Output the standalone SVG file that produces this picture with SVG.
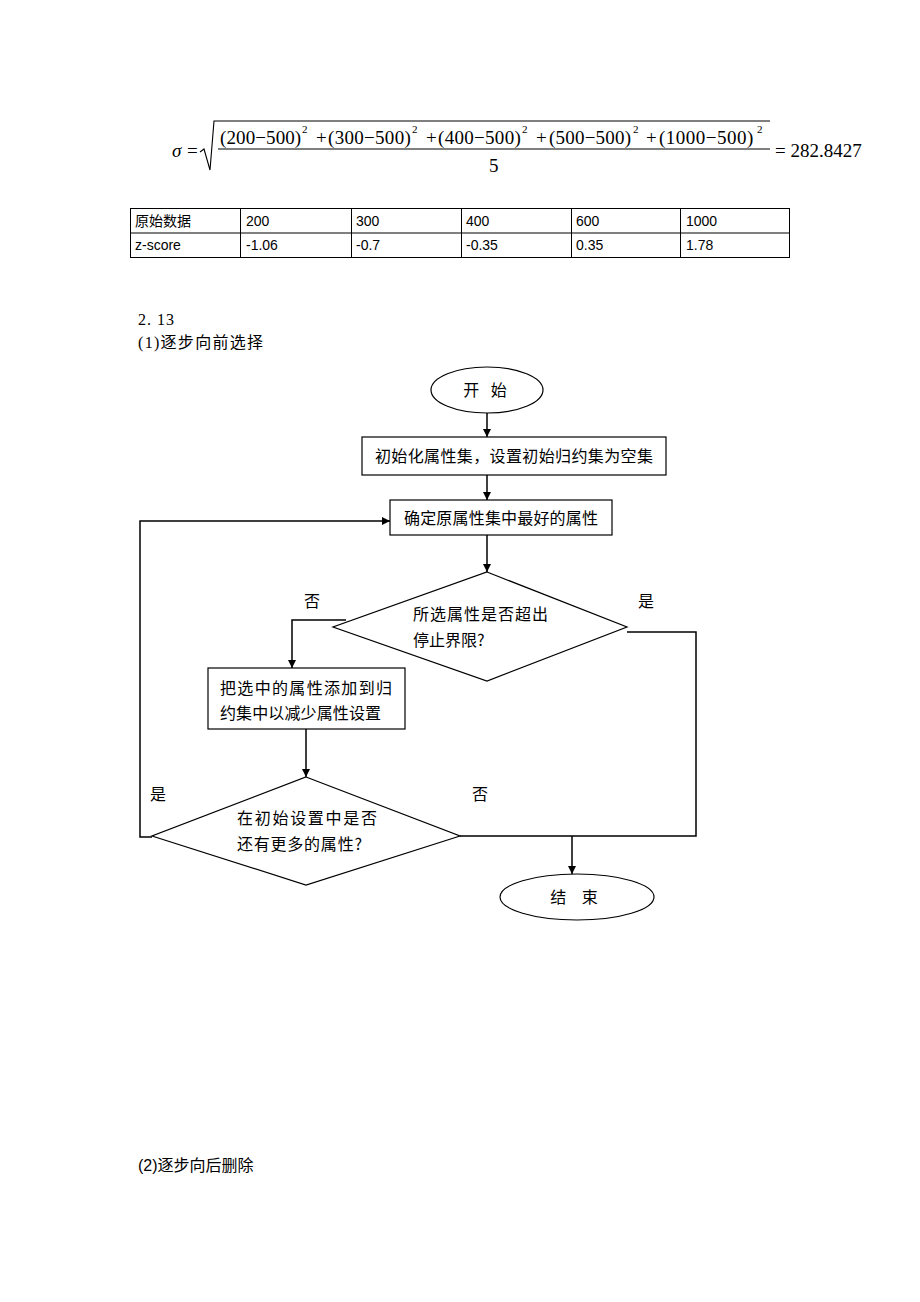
<svg xmlns="http://www.w3.org/2000/svg" width="920" height="1302" viewBox="0 0 920 1302">
<defs>
<marker id="arr" viewBox="0 0 10 10" refX="10" refY="5" markerWidth="8" markerHeight="8" markerUnits="userSpaceOnUse" orient="auto"><path d="M0,0 L10,5 L0,10 z" fill="#000"/></marker>
<style>
.m{font-family:"Liberation Serif",serif;font-size:19px;fill:#000}
.sup{font-size:11px}
.t{font-family:"Liberation Sans","Noto Sans CJK SC",sans-serif;font-size:14px;fill:#000}
.f{font-family:"Noto Sans CJK SC",sans-serif;font-size:16px;fill:#000}
.h{font-family:"Liberation Serif","Noto Sans CJK SC",serif;font-size:16px;fill:#000}
.h2{font-family:"Liberation Sans","Noto Sans CJK SC",sans-serif;font-size:16px;fill:#000}
.shape{fill:#fff;stroke:#000;stroke-width:1.2}
.ln{fill:none;stroke:#000;stroke-width:1.5}
.grid{stroke:#000;stroke-width:1;fill:none}
</style>
</defs>
<rect width="920" height="1302" fill="#fff"/>
<g id="formula">
<text class="m" x="172" y="157"><tspan font-style="italic">σ</tspan><tspan x="187">=</tspan></text>
<path d="M200,152 L204,149 L210,170 L214,121 L770,121" fill="none" stroke="#000" stroke-width="1.1"/>
<line x1="218" y1="149" x2="770" y2="149" stroke="#000" stroke-width="1"/>
<text class="m" y="144"><tspan x="220" letter-spacing="0.1">(200−500)</tspan><tspan class="sup" x="302" y="133">2</tspan><tspan x="316" y="144">+</tspan><tspan x="328" letter-spacing="0.3">(300−500)</tspan><tspan class="sup" x="412" y="133">2</tspan><tspan x="426" y="144">+</tspan><tspan x="438" letter-spacing="0.3">(400−500)</tspan><tspan class="sup" x="522" y="133">2</tspan><tspan x="536" y="144">+</tspan><tspan x="549" letter-spacing="0.2">(500−500)</tspan><tspan class="sup" x="633" y="133">2</tspan><tspan x="646" y="144">+</tspan><tspan x="659" letter-spacing="0.5">(1000−500)</tspan><tspan class="sup" x="757" y="133">2</tspan></text>
<text class="m" x="489" y="172">5</text>
<text class="m" x="775" y="157">= 282.8427</text>
</g>
<g id="table">
<rect class="grid" x="130.5" y="208.5" width="659" height="49"/>
<line class="grid" x1="130" y1="233" x2="790" y2="233"/>
<line class="grid" x1="240.5" y1="208" x2="240.5" y2="258"/>
<line class="grid" x1="351.5" y1="208" x2="351.5" y2="258"/>
<line class="grid" x1="461.5" y1="208" x2="461.5" y2="258"/>
<line class="grid" x1="571.5" y1="208" x2="571.5" y2="258"/>
<line class="grid" x1="680.5" y1="208" x2="680.5" y2="258"/>
<text class="t" x="135" y="226">原始数据</text>
<text class="t" x="246" y="226">200</text>
<text class="t" x="356" y="226">300</text>
<text class="t" x="466" y="226">400</text>
<text class="t" x="576" y="226">600</text>
<text class="t" x="686" y="226">1000</text>
<text class="t" x="135" y="250">z-score</text>
<text class="t" x="246" y="250">-1.06</text>
<text class="t" x="356" y="250">-0.7</text>
<text class="t" x="466" y="250">-0.35</text>
<text class="t" x="576" y="250">0.35</text>
<text class="t" x="686" y="250">1.78</text>
</g>
<g id="headings">
<text class="h" x="138" y="325" letter-spacing="1">2. 13</text>
<text class="h" x="138" y="348" letter-spacing="1.3">(1)逐步向前选择</text>
<text class="h2" x="138" y="1171">(2)逐步向后删除</text>
</g>
<g id="connectors">
<line class="ln" x1="487" y1="413" x2="487" y2="437" marker-end="url(#arr)"/>
<line class="ln" x1="487" y1="475" x2="487" y2="500" marker-end="url(#arr)"/>
<line class="ln" x1="487" y1="535" x2="487" y2="572" marker-end="url(#arr)"/>
<polyline class="ln" points="346,620 292,620 292,668" marker-end="url(#arr)"/>
<line class="ln" x1="306" y1="729" x2="306" y2="777" marker-end="url(#arr)"/>
<polyline class="ln" points="152,837 140,837 140,521 390,521" marker-end="url(#arr)"/>
<polyline class="ln" points="627,632 696,632 696,836 460,836"/>
<line class="ln" x1="572" y1="836" x2="572" y2="874" marker-end="url(#arr)"/>
<text class="f" x="304" y="607">否</text>
<text class="f" x="638" y="607">是</text>
<text class="f" x="150" y="800">是</text>
<text class="f" x="472" y="800">否</text>
</g>
<g id="start">
<ellipse class="shape" cx="487" cy="390" rx="56" ry="23"/>
<text class="f" x="487" y="396" text-anchor="middle" letter-spacing="4">开 始</text>
</g>
<g id="init">
<rect class="shape" x="362" y="437" width="304" height="38"/>
<text class="f" x="514" y="462" text-anchor="middle" textLength="278" lengthAdjust="spacing">初始化属性集，设置初始归约集为空集</text>
</g>
<g id="best">
<rect class="shape" x="390" y="500" width="222" height="35"/>
<text class="f" x="501" y="524" text-anchor="middle" textLength="194" lengthAdjust="spacing">确定原属性集中最好的属性</text>
</g>
<g id="check1">
<polygon class="shape" points="487,572 627,627 487,681 333,627"/>
<text class="f" x="413" y="620" textLength="135" lengthAdjust="spacing">所选属性是否超出</text>
<text class="f" x="413" y="646">停止界限?</text>
</g>
<g id="add">
<rect class="shape" x="208" y="668" width="197" height="61"/>
<text class="f" x="220" y="694" textLength="172" lengthAdjust="spacing">把选中的属性添加到归</text>
<text class="f" x="220" y="719" textLength="161" lengthAdjust="spacing">约集中以减少属性设置</text>
</g>
<g id="check2">
<polygon class="shape" points="306,777 460,836 306,885 152,836"/>
<text class="f" x="237" y="824" textLength="140" lengthAdjust="spacing">在初始设置中是否</text>
<text class="f" x="237" y="850" textLength="125" lengthAdjust="spacing">还有更多的属性?</text>
</g>
<g id="end">
<ellipse class="shape" cx="577" cy="897" rx="77" ry="23"/>
<text class="f" x="577" y="903" text-anchor="middle" letter-spacing="6">结 束</text>
</g>
</svg>
